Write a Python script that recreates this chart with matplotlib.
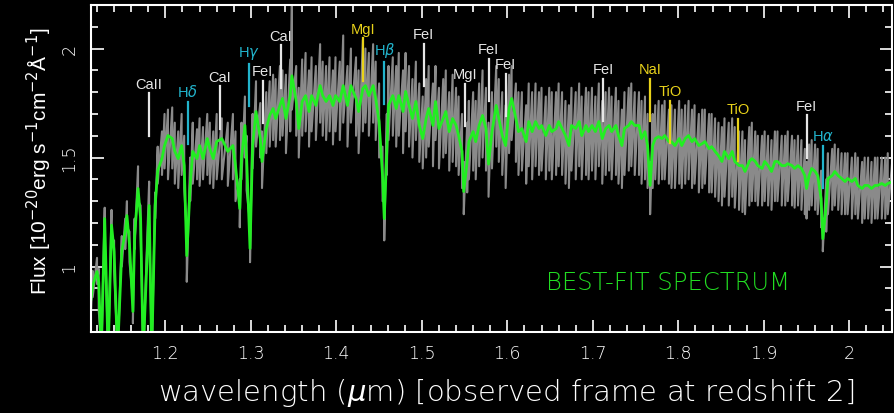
import numpy as np
import matplotlib
matplotlib.use("Agg")
import matplotlib.pyplot as plt
from matplotlib.ticker import MultipleLocator, FormatStrFormatter

plt.rcParams['font.family'] = ['Liberation Sans', 'DejaVu Sans']

# observed-frame wavelength grid (micron)
wave = [
    1.113, 1.115, 1.120, 1.122, 1.125, 1.129, 1.133, 1.137, 1.140, 1.144,
    1.149, 1.153, 1.155, 1.158, 1.162, 1.164, 1.168, 1.171, 1.174, 1.181,
    1.184, 1.188, 1.191, 1.196, 1.199, 1.203, 1.208, 1.211, 1.215, 1.219,
    1.222, 1.225, 1.229, 1.232, 1.237, 1.240, 1.244, 1.249, 1.252, 1.256,
    1.260, 1.266, 1.273, 1.279, 1.282, 1.287, 1.289, 1.293, 1.295, 1.299,
    1.302, 1.306, 1.311, 1.313, 1.318, 1.322, 1.326, 1.329, 1.334, 1.337,
    1.341, 1.346, 1.348, 1.353, 1.356, 1.360, 1.364, 1.368, 1.371, 1.376,
    1.381, 1.384, 1.388, 1.392, 1.396, 1.399, 1.404, 1.408, 1.413, 1.417,
    1.423, 1.426, 1.431, 1.434, 1.438, 1.443, 1.446, 1.450, 1.454, 1.456,
    1.459, 1.461, 1.466, 1.470, 1.473, 1.478, 1.481, 1.485, 1.489, 1.493,
    1.497, 1.501, 1.505, 1.508, 1.513, 1.516, 1.520, 1.525, 1.528, 1.532,
    1.536, 1.540, 1.543, 1.547, 1.549, 1.553, 1.555, 1.560, 1.563, 1.567,
    1.571, 1.575, 1.578, 1.582, 1.587, 1.590, 1.594, 1.598, 1.602, 1.605,
    1.610, 1.613, 1.617, 1.622, 1.625, 1.629, 1.633, 1.637, 1.640, 1.645,
    1.649, 1.652, 1.657, 1.660, 1.664, 1.668, 1.672, 1.675, 1.680, 1.684,
    1.687, 1.692, 1.695, 1.699, 1.703, 1.707, 1.711, 1.715, 1.719, 1.722,
    1.727, 1.730, 1.734, 1.737, 1.742, 1.745, 1.749, 1.754, 1.757, 1.761,
    1.764, 1.767, 1.770, 1.773, 1.777, 1.781, 1.784, 1.789, 1.792, 1.796,
    1.801, 1.804, 1.808, 1.812, 1.816, 1.819, 1.824, 1.828, 1.831, 1.836,
    1.839, 1.843, 1.847, 1.851, 1.854, 1.859, 1.863, 1.866, 1.871, 1.875,
    1.878, 1.883, 1.886, 1.890, 1.893, 1.898, 1.901, 1.905, 1.909, 1.913,
    1.916, 1.921, 1.925, 1.928, 1.933, 1.936, 1.940, 1.944, 1.948, 1.950,
    1.953, 1.956, 1.960, 1.963, 1.967, 1.969, 1.973, 1.975, 1.980, 1.983,
    1.987, 1.991, 1.995, 1.998, 2.003, 2.007, 2.010, 2.015, 2.018, 2.022,
    2.026, 2.030, 2.033, 2.038, 2.042, 2.045, 2.051,
]

# best-fit model flux (1e-20 erg/s/cm2/A)
model_flux = [
    0.85, 0.913, 0.977, 0.93, 0.60, 1.22, 0.60, 1.19, 1.07, 0.60,
    1.07, 1.16, 1.234, 1.10, 0.794, 1.142, 1.358, 1.22, 0.60, 1.28,
    0.60, 1.28, 1.44, 1.495, 1.555, 1.601, 1.587, 1.528, 1.495, 1.555,
    1.463, 1.05, 1.372, 1.528, 1.495, 1.555, 1.495, 1.587, 1.541, 1.495,
    1.573, 1.587, 1.528, 1.555, 1.463, 1.266, 1.495, 1.647, 1.495, 1.083,
    1.555, 1.711, 1.587, 1.482, 1.633, 1.693, 1.725, 1.679, 1.739, 1.771,
    1.679, 1.784, 1.875, 1.757, 1.633, 1.757, 1.784, 1.711, 1.784, 1.739,
    1.830, 1.784, 1.757, 1.784, 1.739, 1.784, 1.757, 1.830, 1.739, 1.830,
    1.771, 1.711, 1.817, 1.830, 1.784, 1.830, 1.771, 1.665, 1.417, 1.22,
    1.528, 1.739, 1.784, 1.725, 1.784, 1.711, 1.803, 1.739, 1.679, 1.757,
    1.647, 1.587, 1.679, 1.725, 1.647, 1.757, 1.633, 1.679, 1.711, 1.619,
    1.679, 1.647, 1.601, 1.528, 1.344, 1.482, 1.573, 1.619, 1.573, 1.647,
    1.693, 1.633, 1.47, 1.619, 1.739, 1.679, 1.601, 1.555, 1.725, 1.771,
    1.679, 1.619, 1.633, 1.573, 1.665, 1.619, 1.665, 1.633, 1.647, 1.601,
    1.647, 1.619, 1.633, 1.665, 1.633, 1.601, 1.555, 1.647, 1.633, 1.665,
    1.601, 1.647, 1.619, 1.647, 1.619, 1.665, 1.587, 1.633, 1.647, 1.619,
    1.647, 1.601, 1.555, 1.633, 1.647, 1.665, 1.647, 1.647, 1.587, 1.619,
    1.555, 1.372, 1.555, 1.587, 1.596, 1.587, 1.601, 1.573, 1.573, 1.555,
    1.587, 1.555, 1.587, 1.601, 1.573, 1.587, 1.555, 1.564, 1.573, 1.541,
    1.550, 1.528, 1.509, 1.482, 1.528, 1.495, 1.528, 1.482, 1.463, 1.463,
    1.436, 1.482, 1.495, 1.482, 1.463, 1.450, 1.482, 1.463, 1.436, 1.482,
    1.482, 1.463, 1.463, 1.472, 1.463, 1.450, 1.463, 1.450, 1.417, 1.358,
    1.417, 1.450, 1.436, 1.417, 1.312, 1.128, 1.280, 1.404, 1.417, 1.436,
    1.417, 1.404, 1.390, 1.404, 1.390, 1.404, 1.372, 1.358, 1.372, 1.372,
    1.358, 1.372, 1.372, 1.381, 1.372, 1.381, 1.390,
]

# observed spectrum: upper and lower excursions of the noisy data
obs_hi = [
    0.95, 0.98, 1.04, 0.99, 0.62, 1.27, 0.62, 1.26, 1.12, 0.62,
    1.14, 1.22, 1.30, 1.16, 0.85, 1.22, 1.46, 1.28, 0.62, 1.39,
    0.62, 1.34, 1.55, 1.62, 1.70, 1.72, 1.73, 1.66, 1.62, 1.70,
    1.60, 1.15, 1.50, 1.66, 1.63, 1.68, 1.64, 1.70, 1.66, 1.62,
    1.70, 1.68, 1.66, 1.70, 1.62, 1.40, 1.66, 1.78, 1.60, 1.20,
    1.70, 1.85, 1.75, 1.62, 1.80, 1.85, 1.88, 1.86, 1.92, 1.90,
    1.88, 1.95, 2.25, 1.92, 1.82, 1.95, 1.98, 1.90, 1.96, 1.92,
    2.02, 1.94, 1.92, 1.96, 1.90, 1.96, 1.94, 2.06, 1.92, 2.00,
    1.96, 1.90, 2.04, 2.00, 1.98, 2.02, 1.94, 1.84, 1.55, 1.30,
    1.70, 1.92, 1.96, 1.92, 1.98, 1.90, 1.98, 1.92, 1.86, 1.94,
    1.84, 1.78, 1.86, 1.92, 1.84, 1.92, 1.82, 1.86, 1.90, 1.80,
    1.88, 1.82, 1.78, 1.70, 1.48, 1.66, 1.76, 1.80, 1.76, 1.84,
    1.90, 1.82, 1.66, 1.80, 1.92, 1.86, 1.80, 1.74, 1.88, 1.92,
    1.84, 1.80, 1.80, 1.74, 1.84, 1.80, 1.84, 1.80, 1.82, 1.78,
    1.82, 1.80, 1.80, 1.84, 1.80, 1.76, 1.74, 1.82, 1.80, 1.84,
    1.78, 1.82, 1.80, 1.82, 1.78, 1.84, 1.76, 1.80, 1.82, 1.78,
    1.82, 1.76, 1.72, 1.80, 1.82, 1.84, 1.80, 1.80, 1.76, 1.78,
    1.70, 1.48, 1.70, 1.74, 1.76, 1.74, 1.76, 1.72, 1.74, 1.72,
    1.76, 1.72, 1.74, 1.76, 1.72, 1.74, 1.70, 1.72, 1.72, 1.70,
    1.70, 1.68, 1.66, 1.64, 1.68, 1.66, 1.68, 1.64, 1.62, 1.62,
    1.58, 1.64, 1.66, 1.62, 1.60, 1.60, 1.62, 1.60, 1.58, 1.62,
    1.62, 1.60, 1.60, 1.62, 1.60, 1.58, 1.60, 1.58, 1.54, 1.48,
    1.56, 1.58, 1.56, 1.54, 1.44, 1.22, 1.40, 1.52, 1.54, 1.56,
    1.54, 1.52, 1.52, 1.52, 1.50, 1.52, 1.50, 1.48, 1.50, 1.50,
    1.48, 1.50, 1.50, 1.50, 1.50, 1.52, 1.52,
]
obs_lo = [
    0.80, 0.86, 0.92, 0.80, 0.58, 1.15, 0.58, 1.12, 0.98, 0.58,
    1.00, 1.08, 1.18, 1.02, 0.74, 1.08, 1.30, 1.15, 0.58, 1.20,
    0.58, 1.22, 1.38, 1.42, 1.45, 1.40, 1.45, 1.38, 1.36, 1.42,
    1.36, 0.93, 1.30, 1.38, 1.40, 1.37, 1.40, 1.42, 1.38, 1.36,
    1.40, 1.40, 1.37, 1.40, 1.30, 1.18, 1.40, 1.50, 1.35, 1.02,
    1.45, 1.55, 1.50, 1.36, 1.52, 1.55, 1.58, 1.55, 1.58, 1.60,
    1.52, 1.62, 1.72, 1.60, 1.50, 1.60, 1.62, 1.55, 1.62, 1.58,
    1.66, 1.60, 1.58, 1.62, 1.56, 1.62, 1.58, 1.66, 1.55, 1.66,
    1.60, 1.52, 1.62, 1.66, 1.60, 1.66, 1.58, 1.50, 1.30, 1.12,
    1.42, 1.58, 1.60, 1.55, 1.60, 1.52, 1.62, 1.55, 1.50, 1.58,
    1.48, 1.45, 1.50, 1.55, 1.46, 1.58, 1.45, 1.50, 1.52, 1.44,
    1.48, 1.46, 1.42, 1.36, 1.24, 1.34, 1.40, 1.44, 1.40, 1.46,
    1.50, 1.44, 1.32, 1.45, 1.55, 1.48, 1.42, 1.36, 1.52, 1.58,
    1.48, 1.42, 1.44, 1.38, 1.46, 1.40, 1.46, 1.42, 1.44, 1.40,
    1.44, 1.40, 1.42, 1.46, 1.42, 1.38, 1.36, 1.44, 1.40, 1.46,
    1.40, 1.42, 1.40, 1.44, 1.40, 1.46, 1.38, 1.42, 1.44, 1.40,
    1.42, 1.38, 1.36, 1.42, 1.44, 1.46, 1.42, 1.42, 1.38, 1.40,
    1.36, 1.24, 1.36, 1.40, 1.38, 1.40, 1.40, 1.38, 1.36, 1.36,
    1.38, 1.36, 1.38, 1.40, 1.36, 1.38, 1.34, 1.36, 1.38, 1.34,
    1.34, 1.32, 1.30, 1.28, 1.32, 1.28, 1.32, 1.27, 1.26, 1.25,
    1.24, 1.28, 1.30, 1.30, 1.28, 1.28, 1.30, 1.28, 1.26, 1.30,
    1.30, 1.28, 1.28, 1.30, 1.28, 1.27, 1.28, 1.26, 1.24, 1.22,
    1.26, 1.28, 1.26, 1.24, 1.18, 1.07, 1.16, 1.24, 1.26, 1.28,
    1.26, 1.24, 1.24, 1.24, 1.22, 1.24, 1.22, 1.20, 1.22, 1.22,
    1.20, 1.22, 1.22, 1.22, 1.22, 1.24, 1.24,
]

# identified absorption features
line_names = ['CaII', r'H$\delta$', 'CaI', r'H$\gamma$', 'FeI', 'CaI', 'MgI', r'H$\beta$',
              'FeI', 'MgI', 'FeI', 'FeI', 'FeI', 'NaI', 'TiO', 'TiO', 'FeI', r'H$\alpha$']
line_waves = [1.181, 1.226, 1.264, 1.298, 1.314, 1.335, 1.431, 1.456,
              1.502, 1.550, 1.578, 1.598, 1.712, 1.767, 1.790, 1.870, 1.950, 1.969]
line_kind = ['metal', 'balmer', 'metal', 'balmer', 'metal', 'metal', 'strong', 'balmer',
             'metal', 'metal', 'metal', 'metal', 'metal', 'strong', 'strong', 'strong', 'metal', 'balmer']

# vertical extent of each marker tick
tick_top = [1.794, 1.757, 1.826, 1.931, 1.853, 2.014, 2.046, 1.940,
            2.023, 1.839, 1.954, 1.885, 1.862, 1.862, 1.761, 1.679, 1.693, 1.555]
tick_len = 0.195

kind_color = {'metal': '#e6e6e6', 'balmer': '#22b4cc', 'strong': '#e8d21a'}

fig = plt.figure(figsize=(8.95, 4.14), dpi=100, facecolor='black')
ax = fig.add_axes([0.1017, 0.1957, 0.895, 0.790])
ax.set_facecolor('black')

# noisy data drawn as a dense zigzag between its excursions
gray_x = np.repeat(wave, 2)
gray_y = np.column_stack([obs_hi, obs_lo]).ravel()
ax.plot(gray_x, gray_y, color='#8a8a8a', lw=1.5)
ax.plot(wave, model_flux, color='#22ee22', lw=2.0)

for name, w, kind, top in zip(line_names, line_waves, line_kind, tick_top):
    c = kind_color[kind]
    ax.plot([w, w], [top - tick_len, top], color=c, lw=1.6)
    ax.annotate(name, (w, top), xytext=(0, 2), textcoords='offset points',
                ha='center', va='bottom', color=c, fontsize=10.5)

ax.text(1.788, 0.927, 'BEST-FIT SPECTRUM', color='#22dd22', fontsize=17.5,
        family='DejaVu Sans', fontweight='light', ha='center', va='center')

ax.set_xlim(1.113, 2.05)
ax.set_ylim(0.70, 2.20)
ax.xaxis.set_major_locator(MultipleLocator(0.1))
ax.xaxis.set_minor_locator(MultipleLocator(0.02))
ax.yaxis.set_major_locator(MultipleLocator(0.5))
ax.yaxis.set_minor_locator(MultipleLocator(0.1))
ax.xaxis.set_major_formatter(FormatStrFormatter('%g'))
ax.yaxis.set_major_formatter(FormatStrFormatter('%g'))

ax.tick_params(which='both', direction='in', top=True, right=True,
               colors='white', width=1.2)
ax.tick_params(which='major', length=9, pad=9, labelsize=12.5)
ax.tick_params(which='minor', length=5)
ax.tick_params(axis='y', labelrotation=90)
for lab in ax.get_xticklabels() + ax.get_yticklabels():
    lab.set_family('DejaVu Sans')
    lab.set_fontweight('light')
for lab in ax.get_yticklabels():
    lab.set_verticalalignment('center')
for sp in ax.spines.values():
    sp.set_color('white')
    sp.set_linewidth(1.5)

ax.set_xlabel(r'wavelength ($\mu$m) [observed frame at redshift 2]', color='white',
              fontsize=21, family='DejaVu Sans', fontweight='light', va='center')
ax.xaxis.set_label_coords(0.518, -0.185)
ax.set_ylabel(r'Flux [10$^{-20}$erg s$^{-1}$cm$^{-2}$Å$^{-1}$]', color='white',
              fontsize=15, va='center')
ax.yaxis.set_label_coords(-0.064, 0.526)

fig.savefig('out.png', dpi=100, facecolor='black')
